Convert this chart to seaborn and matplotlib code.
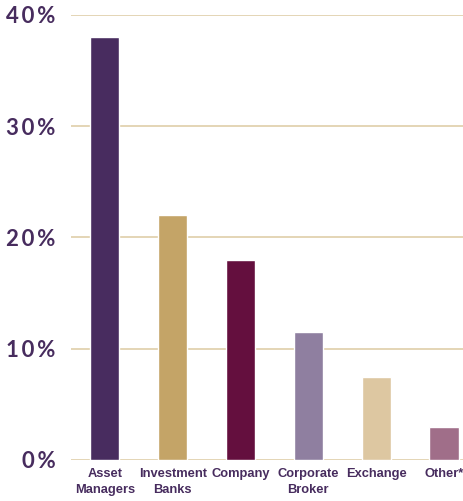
import matplotlib
matplotlib.use("Agg")
import matplotlib.pyplot as plt
import seaborn as sns
import pandas as pd

categories = ["Asset\nManagers", "Investment\nBanks", "Company", "Corporate\nBroker", "Exchange", "Other*"]
shares = [38.0, 22.0, 18.0, 11.5, 7.5, 3.0]
bar_colors = ["#482C5F", "#C4A467", "#640F3E", "#8F7FA0", "#DDC7A1", "#A06E89"]
y_ticks = [0, 10, 20, 30, 40]
y_tick_labels = ["0%", "10%", "20%", "30%", "40%"]

text_color = "#472C5E"
grid_color = "#E4D5B6"

df = pd.DataFrame({"category": categories, "share": shares})

sns.set_theme(style="white")
plt.rcParams["font.family"] = ["Liberation Sans", "DejaVu Sans"]

fig = plt.figure(figsize=(4.63, 5.01), dpi=100)
ax = fig.add_axes([71 / 463, 41 / 501, 1 - 71 / 463, 445 / 501])

for y in y_ticks:
    ax.axhline(y, color=grid_color, lw=1.4, zorder=0)

sns.barplot(data=df, x="category", y="share", hue="category", palette=bar_colors,
            legend=False, width=0.43, saturation=1, ax=ax, zorder=2)

ax.set_xlim(-0.5, 5.28)
ax.set_ylim(0, 40)
ax.set_yticks(y_ticks)
# spaced-out percent labels
spaced = ["\u2009".join(t) for t in y_tick_labels]
ax.set_yticklabels(spaced, fontsize=16, color=text_color,
                   family=["Lato", "DejaVu Sans"], fontweight="bold")
ax.tick_params(axis="y", length=0, pad=11)
ax.tick_params(axis="x", length=0, pad=6)
for lbl in ax.get_xticklabels():
    lbl.set_fontsize(9.3)
    lbl.set_fontweight("bold")
    lbl.set_color(text_color)
    lbl.set_linespacing(1.4)
ax.set_xlabel("")
ax.set_ylabel("")
for s in ax.spines.values():
    s.set_visible(False)
ax.set_facecolor("white")

fig.savefig("out.png", dpi=100, facecolor="white")
